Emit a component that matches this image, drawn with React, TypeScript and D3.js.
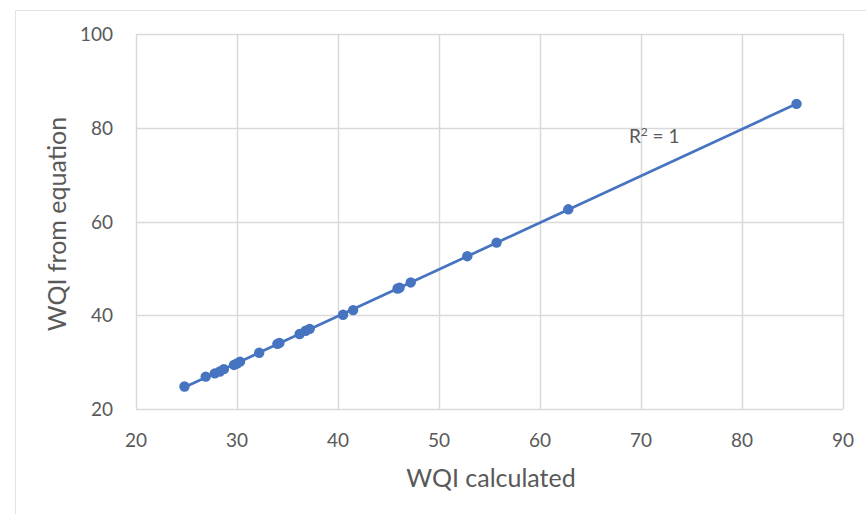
import { useEffect, useRef } from 'react';
import * as d3 from 'd3';

const wqiCalculated = [24.8, 26.9, 27.8, 28.3, 28.7, 29.7, 30.0, 30.3, 32.2, 34.0, 34.2, 36.2, 36.8, 37.2, 40.5, 41.5, 45.9, 46.1, 47.2, 52.8, 55.7, 62.8, 85.4];
const wqiEquation = [24.8, 26.9, 27.6, 28.0, 28.5, 29.4, 29.7, 30.1, 32.0, 33.9, 34.1, 36.0, 36.7, 37.1, 40.1, 41.1, 45.7, 45.9, 47.0, 52.6, 55.5, 62.6, 85.1];
const xTicks = [20, 30, 40, 50, 60, 70, 80, 90];
const yTicks = [20, 40, 60, 80, 100];

function App() {
  const svgRef = useRef(null);

  useEffect(() => {
    const width = 866;
    const height = 514;
    const margin = { top: 34, right: 23, bottom: 105, left: 136 };
    const innerWidth = width - margin.left - margin.right;
    const innerHeight = height - margin.top - margin.bottom;
    const font = 'Lato, "Open Sans", sans-serif';
    const blue = '#4674c1';
    const grey = '#595959';

    const svg = d3.select(svgRef.current);
    svg.selectAll('*').remove();

    // outer chart frame
    svg.append('rect')
      .attr('x', 15.5).attr('y', 10.5)
      .attr('width', 900).attr('height', 600)
      .attr('fill', 'white')
      .attr('stroke', '#e3e3e3');

    const g = svg.append('g')
      .attr('transform', `translate(${margin.left},${margin.top})`);

    const x = d3.scaleLinear().domain([20, 90]).range([0, innerWidth]);
    const y = d3.scaleLinear().domain([20, 100]).range([innerHeight, 0]);

    // grid
    g.selectAll('.vgrid')
      .data(xTicks)
      .join('line')
      .attr('x1', d => Math.round(x(d)) + 0.5)
      .attr('x2', d => Math.round(x(d)) + 0.5)
      .attr('y1', 0)
      .attr('y2', innerHeight)
      .attr('stroke', '#d9d9d9')
      .attr('stroke-width', 1.5);

    g.selectAll('.hgrid')
      .data(yTicks)
      .join('line')
      .attr('x1', 0)
      .attr('x2', innerWidth)
      .attr('y1', d => Math.round(y(d)) + 0.5)
      .attr('y2', d => Math.round(y(d)) + 0.5)
      .attr('stroke', '#d9d9d9')
      .attr('stroke-width', 1.5);

    // tick labels
    g.selectAll('.xlab')
      .data(xTicks)
      .join('text')
      .attr('x', d => x(d))
      .attr('y', innerHeight + 38)
      .attr('text-anchor', 'middle')
      .attr('fill', grey)
      .style('font-family', font)
      .style('font-size', '19px')
      .text(d => d);

    g.selectAll('.ylab')
      .data(yTicks)
      .join('text')
      .attr('x', -23)
      .attr('y', d => y(d) + 7)
      .attr('text-anchor', 'end')
      .attr('fill', grey)
      .style('font-family', font)
      .style('font-size', '19px')
      .text(d => d);

    // axis titles
    g.append('text')
      .attr('x', 491 - margin.left)
      .attr('y', innerHeight + 78)
      .attr('text-anchor', 'middle')
      .attr('fill', grey)
      .style('font-family', font)
      .style('font-size', '25px')
      .text('WQI calculated');

    g.append('text')
      .attr('transform', 'rotate(-90)')
      .attr('x', -190)
      .attr('y', -70)
      .attr('text-anchor', 'middle')
      .attr('fill', grey)
      .style('font-family', font)
      .style('font-size', '25px')
      .text('WQI from equation');

    // linear trendline over data range
    const pts = wqiCalculated.map((v, i) => ({ x: v, y: wqiEquation[i] }));
    const mx = d3.mean(pts, d => d.x);
    const my = d3.mean(pts, d => d.y);
    const slope = d3.sum(pts, d => (d.x - mx) * (d.y - my)) / d3.sum(pts, d => (d.x - mx) ** 2);
    const icpt = my - slope * mx;
    const [x0, x1] = d3.extent(wqiCalculated);

    g.append('path')
      .datum([x0, x1])
      .attr('fill', 'none')
      .attr('stroke', blue)
      .attr('stroke-width', 2.75)
      .attr('d', d3.line().x(d => x(d)).y(d => y(icpt + slope * d)));

    g.selectAll('.dot')
      .data(pts)
      .join('circle')
      .attr('cx', d => x(d.x))
      .attr('cy', d => y(d.y))
      .attr('r', 5.2)
      .attr('fill', blue);

    // R² label
    const r2 = g.append('text')
      .attr('x', x(68.8))
      .attr('y', y(76.7))
      .attr('fill', grey)
      .style('font-family', font)
      .style('font-size', '19px');
    r2.append('tspan').text('R');
    r2.append('tspan').attr('dy', -7).style('font-size', '12px').text('2');
    r2.append('tspan').attr('dy', 7).text(' = 1');
  }, []);

  return (
    <svg
      ref={svgRef}
      width={866}
      height={514}
      style={{ position: 'absolute', left: 0, top: 0, background: 'white' }}
    />
  );
}

export default App;
